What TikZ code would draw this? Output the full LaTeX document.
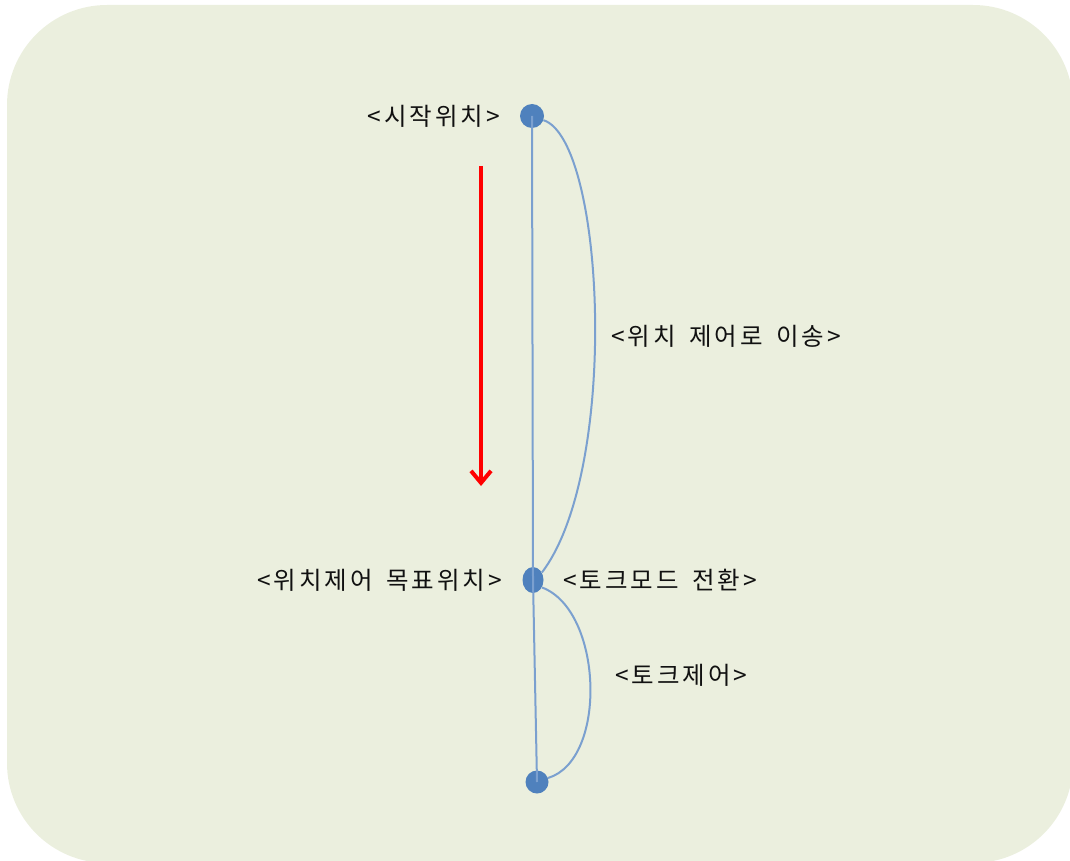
\documentclass[tikz,border=0pt]{standalone}
\usepackage{fontspec}
\newfontfamily\kr[LetterSpace=12,WordSpace=1.6]{Noto Sans CJK KR}
\usetikzlibrary{arrows.meta,shapes.geometric}
\definecolor{bgc}{HTML}{EBEFDE}
\definecolor{dotc}{HTML}{4F81BD}
\definecolor{linec}{HTML}{7BA0CF}
\definecolor{txtc}{HTML}{111111}
\tikzset{
  dotnode/.style={circle,fill=dotc,inner sep=0pt,minimum size=24pt},
  middot/.style={ellipse,fill=dotc,inner sep=0pt,minimum width=21pt,minimum height=26pt},
  link/.style={linec,line width=2pt},
  lbl/.style={text=txtc,font=\kr\fontsize{24.5pt}{29pt}\selectfont,inner sep=0pt},
  redarrow/.style={red,line width=4pt,-{Straight Barb[length=12pt,width=20pt]}}
}
\begin{document}
\begin{tikzpicture}[x=1pt,y=-1pt]
\useasboundingbox (0,0) rectangle (1070,861);
\fill[bgc,rounded corners=100pt] (7,5) rectangle (1073,863);
% dots
\node[dotnode] (top) at (532,116) {};
\node[middot] (mid) at (533,580) {};
\node[dotnode,minimum size=23pt] (bot) at (537,782) {};
% lines
\draw[link] (top.center) -- (mid.center);
\draw[link] (mid.center) -- (bot.center);
\draw[link] (top.-20) .. controls (605,140) and (620,470) .. (mid.40);
\draw[link] (mid.-40) .. controls (603,610) and (608,760) .. (bot.20);
% red arrow
\coordinate (rs) at (481,166);
\coordinate (re) at (481,486);
\draw[redarrow] (rs) -- (re);
% labels
\node[lbl,anchor=east] (l1) at (500,116) {<시작위치>};
\node[lbl,anchor=west] (l2) at (611,336) {<위치 제어로 이송>};
\node[lbl,anchor=east] (l3) at (502,580) {<위치제어 목표위치>};
\node[lbl,anchor=west] (l4) at (563,580) {<토크모드 전환>};
\node[lbl,anchor=west] (l5) at (615,675) {<토크제어>};
\end{tikzpicture}
\end{document}
